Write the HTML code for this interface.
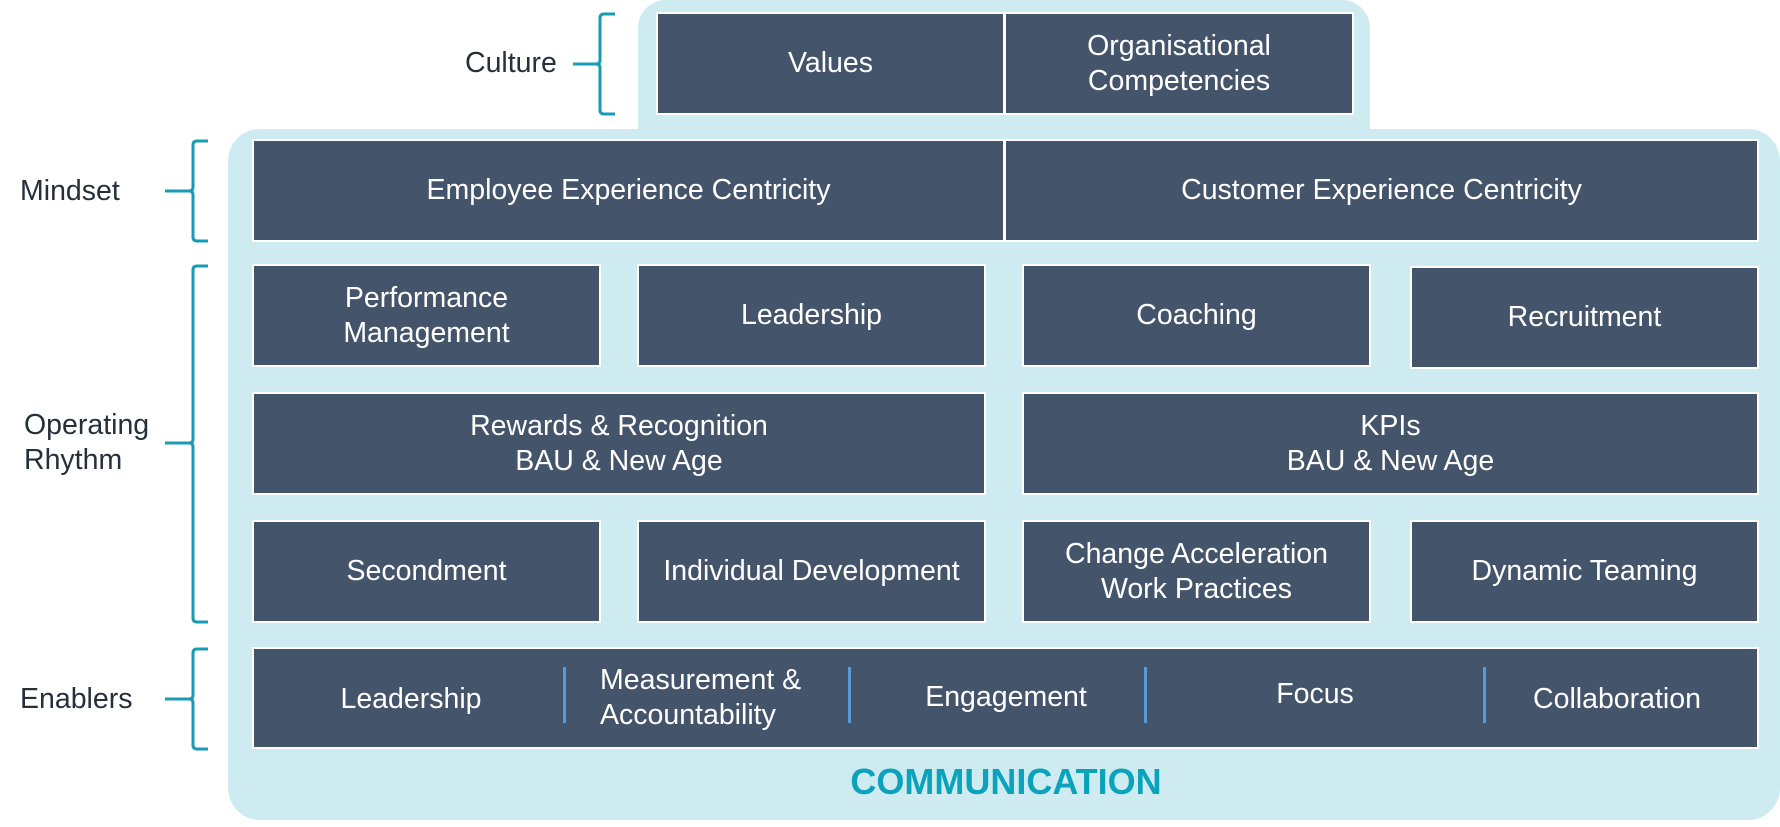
<!DOCTYPE html>
<html><head><meta charset="utf-8"><style>
body{margin:0;width:1780px;height:827px;background:#fff;position:relative;overflow:hidden;font-family:"Liberation Sans",sans-serif;}
.p{position:absolute;background:#cdebf0;}
.b{position:absolute;background:#44546a;border:2px solid #fff;box-sizing:border-box;color:#fff;font-size:28.5px;display:flex;align-items:center;justify-content:center;text-align:center;line-height:35px;}
.l{position:absolute;color:#262f3a;font-size:28.5px;line-height:35px;}
.t{position:absolute;color:#fff;font-size:28.5px;line-height:35px;width:300px;text-align:center;}
.s{position:absolute;width:3px;background:#5b9bd5;top:667px;height:56px;}
</style></head><body>
<div class="p" style="left:638px;top:0;width:732px;height:160px;border-radius:28px 28px 0 0"></div>
<div class="p" style="left:228px;top:129px;width:1552px;height:691px;border-radius:32px"></div>
<div class="b" style="left:656px;top:12px;width:349px;height:103px">Values</div>
<div class="b" style="left:1004px;top:12px;width:350px;height:103px">Organisational<br>Competencies</div>
<div class="b" style="left:252px;top:139px;width:753px;height:103px">Employee Experience Centricity</div>
<div class="b" style="left:1004px;top:139px;width:755px;height:103px">Customer Experience Centricity</div>
<div class="b" style="left:252px;top:264px;width:349px;height:103px">Performance<br>Management</div>
<div class="b" style="left:637px;top:264px;width:349px;height:103px">Leadership</div>
<div class="b" style="left:1022px;top:264px;width:349px;height:103px">Coaching</div>
<div class="b" style="left:1410px;top:266px;width:349px;height:103px">Recruitment</div>
<div class="b" style="left:252px;top:392px;width:734px;height:103px">Rewards &amp; Recognition<br>BAU &amp; New Age</div>
<div class="b" style="left:1022px;top:392px;width:737px;height:103px">KPIs<br>BAU &amp; New Age</div>
<div class="b" style="left:252px;top:520px;width:349px;height:103px">Secondment</div>
<div class="b" style="left:637px;top:520px;width:349px;height:103px">Individual Development</div>
<div class="b" style="left:1022px;top:520px;width:349px;height:103px">Change Acceleration<br>Work Practices</div>
<div class="b" style="left:1410px;top:520px;width:349px;height:103px">Dynamic Teaming</div>
<div class="b" style="left:252px;top:647px;width:1507px;height:102px"></div>
<div class="t" style="left:261px;top:682px">Leadership</div>
<div class="t" style="left:600px;top:663px;text-align:left">Measurement &amp;<br>Accountability</div>
<div class="t" style="left:856px;top:680px">Engagement</div>
<div class="t" style="left:1165px;top:677px">Focus</div>
<div class="t" style="left:1467px;top:682px">Collaboration</div>
<div class="s" style="left:563px"></div>
<div class="s" style="left:848px"></div>
<div class="s" style="left:1144px"></div>
<div class="s" style="left:1483px"></div>
<div style="position:absolute;left:0;width:2012px;top:762px;text-align:center;color:#0aa3bb;font-weight:bold;font-size:36px;line-height:40px">COMMUNICATION</div>
<div class="l" style="left:465px;top:46px">Culture</div>
<div class="l" style="left:20px;top:174px">Mindset</div>
<div class="l" style="left:24px;top:408px">Operating<br>Rhythm</div>
<div class="l" style="left:20px;top:682px">Enablers</div>
<svg width="1780" height="827" style="position:absolute;left:0;top:0" fill="none" stroke="#1a9bb5" stroke-width="3">
<path d="M615 14 H604 Q600 14 600 18 V60 Q600 64 596 64 H573 M596 64 Q600 64 600 68 V110 Q600 114 604 114 H615"/>
<path d="M208 141 H197 Q193 141 193 145 V187 Q193 191 189 191 H165 M189 191 Q193 191 193 195 V237 Q193 241 197 241 H208"/>
<path d="M208 266 H197 Q193 266 193 270 V439 Q193 443 189 443 H165 M189 443 Q193 443 193 447 V618 Q193 622 197 622 H208"/>
<path d="M208 649 H197 Q193 649 193 653 V695 Q193 699 189 699 H165 M189 699 Q193 699 193 703 V745 Q193 749 197 749 H208"/>
</svg>
</body></html>
